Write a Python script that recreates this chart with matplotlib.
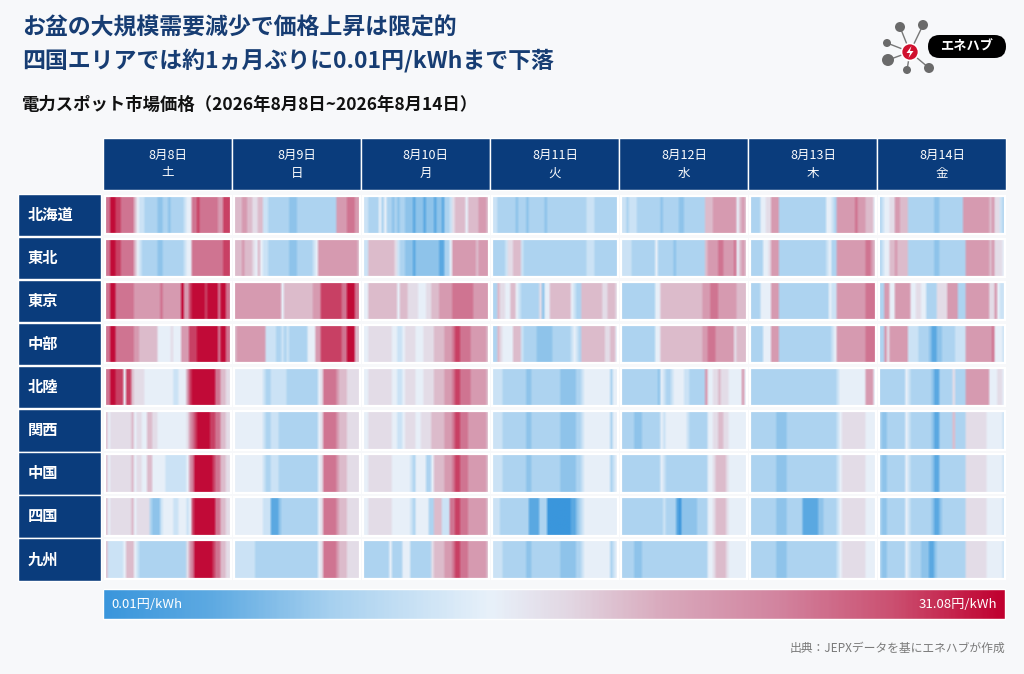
import numpy as np
import matplotlib.pyplot as plt
from matplotlib.colors import LinearSegmentedColormap, Normalize
from matplotlib.patches import Rectangle, Circle, FancyBboxPatch, Polygon

plt.rcParams['font.family'] = ['Noto Sans CJK JP', 'DejaVu Sans']

regions = ['北海道', '東北', '東京', '中部', '北陸', '関西', '中国', '四国', '九州']
dates = ['8月8日', '8月9日', '8月10日', '8月11日', '8月12日', '8月13日', '8月14日']
weekdays = ['土', '日', '月', '火', '水', '木', '金']

# one character per half hour (48 per day)
level_price = dict(zip('0123456789ab',
                       [0.01, 3.5, 6.5, 8.5, 11, 13.5, 15.5, 18, 21, 24.5, 28, 30.5]))
p_min, p_max = 0.01, 31.08

hokkaido = [
    "99bbaa 999997 544333 332233 233333 45599a 999999 988aaa",
    "777887 766774 433333 333222 333333 333333 333888 899988",
    "443333 535332 323322 212221 222122 133467 777577 778887",
    "443333 333233 323333 332333 333333 333333 444333 333333",
    "443444 333333 333233 333322 333333 337778 888888 885787",
    "333355 668883 333333 333333 333335 543888 888898 887775",
    "345566 887773 333333 333223 333333 338888 888888 786643",
]
tohoku = [
    "99bbaa 999997 543333 332233 333333 455999 999999 999aaa",
    "777877 765754 433333 333222 333333 458888 888888 888887",
    "447777 777777 643322 212222 222221 133588 888888 878888",
    "333334 667774 333333 333333 333333 333333 444333 333333",
    "444433 333333 353333 332333 333333 337888 899888 895787",
    "333335 568883 333333 333333 333334 533888 888888 889987",
    "345577 877773 333333 333223 333333 333888 888888 786665",
]
tokyo = [
    "99bb99 999998 888888 888988 88888b 88abbb bbabbb b9bb99",
    "888888 888888 888888 577777 777777 888aaa aaaaa9 9bbb99",
    "557777 777777 757776 666555 667778 888899 999999 888888",
    "337665 577543 333333 625577 777777 543377 777777 667776",
    "333333 333333 355777 777777 777777 788899 988888 887777",
    "333355 558883 333333 333333 333333 544888 888888 889999",
    "338855 888888 556655 333366 668888 333888 888888 668544",
]
chubu = [
    "99bb99 999998 877777 775555 565558 88aaab bbbbbb b9bb99",
    "788888 888888 444433 434333 333355 588aaa aaaaa9 9bbb77",
    "556666 666665 544566 665556 666777 78889a a99998 888887",
    "337655 557774 333332 222223 333333 454377 777777 766775",
    "333333 333333 355777 777777 777777 788999 888888 867777",
    "333335 558883 333333 333333 333333 345888 888888 889999",
    "338688 888884 444333 321122 333334 444888 888888 895554",
]
hokuriku = [
    "99bbaa a5aa76 666555 555555 554455 58abbb bbbbbb 997766",
    "555555 555554 334444 443333 333333 335699 999877 766666",
    "556666 666665 544566 665556 666777 78889a a99998 888887",
    "444433 333333 322333 333333 332222 223345 555555 555355",
    "333333 333333 332543 345555 443333 338556 676665 555585",
    "333333 333333 333333 333333 333333 333455 555555 558885",
    "333333 333354 333333 332113 333363 333888 888888 555665",
]
kansai = [
    "756666 666675 665577 665555 555555 5689ab bbbbaa 997766",
    "555555 555554 334443 333333 333333 335699 999877 766666",
    "556666 666665 544566 665566 667777 78889a a99988 888887",
    "444433 333333 322333 333333 332222 223345 555555 555355",
    "333332 223333 333545 555555 543333 333556 677665 555555",
    "333333 333322 223333 333333 333333 333456 666666 665555",
    "322333 333354 333333 332113 333373 333666 666665 555554",
]
chugoku = [
    "756666 666675 665577 555554 444444 4589bb bbbbba 997766",
    "555555 555554 334443 333333 333333 335699 999877 766666",
    "556666 666665 555555 435555 335777 78889a a99988 888887",
    "444433 333333 322333 333333 332222 223345 555555 555345",
    "333333 333333 333543 333333 333333 333556 777765 555555",
    "333333 333322 223333 333333 333333 333456 666666 665555",
    "322333 333354 333333 332113 333333 333666 666665 555554",
]
shikoku = [
    "756666 666675 666663 222455 554455 545abb bbbbbb 997766",
    "555555 555554 441112 333333 333333 335699 999877 766666",
    "556666 666665 555555 435555 533777 44499a a99988 888887",
    "444333 333333 331111 333000 000000 112345 555555 555555",
    "333333 333333 333343 333102 222223 333556 777765 555555",
    "333333 333322 223333 331111 112233 333456 666666 665555",
    "322333 333354 333333 332112 333333 333666 666665 555554",
]
kyushu = [
    "744444 457775 433333 333333 333333 3689bb bbbbba 997766",
    "444444 443333 333333 333333 333333 335699 999877 766666",
    "333333 333353 333555 333333 336777 78889a a99988 888887",
    "444433 333333 322333 333333 332222 223345 555555 555345",
    "333332 223333 333333 333333 333333 333556 777765 555555",
    "333333 333322 223333 333333 333333 333456 666666 665555",
    "322333 333354 333322 211233 333333 333666 666665 555554",
]
region_data = [hokkaido, tohoku, tokyo, chubu, hokuriku, kansai, chugoku, shikoku, kyushu]


def decode(s):
    return np.array([level_price[c] for c in s.replace(' ', '')])


cmap = LinearSegmentedColormap.from_list('jepx', [
    (0.00, '#3a96dc'), (0.12, '#5eaae2'), (0.25, '#a6d0ef'), (0.43, '#e8f1fa'),
    (0.52, '#e2d6e2'), (0.62, '#d9aabd'), (0.75, '#d2849f'), (0.88, '#cb4f70'),
    (1.00, '#c0002f')])
norm = Normalize(p_min, p_max)

W, H = 1024, 674
navy = '#0a3c7c'
fig = plt.figure(figsize=(W / 100, H / 100), dpi=100, facecolor='#f7f8fa')
ax = fig.add_axes([0, 0, 1, 1])
ax.axis('off')

# titles
ax.text(22, 28, 'お盆の大規模需要減少で価格上昇は限定的', fontsize=16.5, fontweight='bold',
        color='#173d73', va='center')
ax.text(22, 61, '四国エリアでは約1ヵ月ぶりに0.01円/kWhまで下落', fontsize=16.5,
        fontweight='bold', color='#173d73', va='center')
ax.text(22, 105, '電力スポット市場価格（2026年8月8日~2026年8月14日）', fontsize=12.5,
        fontweight='bold', color='#111111', va='center')

# grid geometry
col_x0, col_step, cell_w = 105, 129.05, 125.5
row_y0, row_step, cell_h = 195.5, 43.1, 38.5

for d, (dt, wd) in enumerate(zip(dates, weekdays)):
    x = col_x0 + d * col_step
    ax.add_patch(Rectangle((x - 2, 138), cell_w + 3, 52, fc=navy, ec='white', lw=1))
    ax.text(x + cell_w / 2, 155, dt, color='white', fontsize=9, ha='center', va='center')
    ax.text(x + cell_w / 2, 173, wd, color='white', fontsize=9, ha='center', va='center')

for r, (name, days) in enumerate(zip(regions, region_data)):
    y = row_y0 + r * row_step
    ax.add_patch(Rectangle((18, y - 2), 83, cell_h + 4, fc=navy, ec='white', lw=1))
    ax.text(28, y + cell_h / 2, name, color='white', fontsize=11, fontweight='bold',
            va='center', ha='left')
    for d, s in enumerate(days):
        x = col_x0 + d * col_step
        ax.imshow(decode(s)[None, :], cmap=cmap, norm=norm, aspect='auto',
                  interpolation='bilinear', extent=(x, x + cell_w, y + cell_h, y), zorder=2)
        ax.add_patch(Rectangle((x, y), cell_w, cell_h, fc='none', ec='white', lw=1.6, zorder=3))

# colour bar
grad = np.linspace(p_min, p_max, 400)
ax.imshow(grad[None, :], cmap=cmap, norm=norm, aspect='auto',
          extent=(103, 1005, 619, 589), zorder=2)
ax.add_patch(Rectangle((103, 589), 902, 30, fc='none', ec='white', lw=1, zorder=3))
ax.text(111, 604, '0.01円/kWh', color='white', fontsize=9.5, va='center', ha='left', zorder=4)
ax.text(997, 604, '31.08円/kWh', color='white', fontsize=9.5, va='center', ha='right', zorder=4)

ax.text(1005, 648, '出典：JEPXデータを基にエネハブが作成', color='#7a7a7a', fontsize=8.5,
        ha='right', va='center')

# logo
hub = (910, 52)
nodes = [(900, 27, 5), (923, 25, 5), (887, 43, 4), (888, 60, 6), (907, 70, 4), (929, 68, 5)]
for nx, ny, nr in nodes:
    ax.plot([hub[0], nx], [hub[1], ny], color='#777777', lw=1, zorder=4)
    ax.add_patch(Circle((nx, ny), nr, fc='#6a6a6a', ec='none', zorder=5))
ax.add_patch(FancyBboxPatch((928, 35), 78, 23, boxstyle='round,pad=0,rounding_size=11.5',
                            fc='black', ec='none', zorder=5))
ax.text(967, 46.5, 'エネハブ', color='white', fontsize=9.5, fontweight='bold',
        ha='center', va='center', zorder=6)
ax.add_patch(Circle(hub, 8.5, fc='#d0102e', ec='white', lw=1.2, zorder=6))
bolt = [(hub[0] + 1.5, hub[1] - 6), (hub[0] - 3.5, hub[1] + 1), (hub[0], hub[1] + 1),
        (hub[0] - 1.5, hub[1] + 6), (hub[0] + 3.5, hub[1] - 1), (hub[0], hub[1] - 1)]
ax.add_patch(Polygon(bolt, closed=True, fc='white', ec='none', zorder=7))

ax.set_xlim(0, W)
ax.set_ylim(H, 0)
fig.savefig('out.png', dpi=100, facecolor=fig.get_facecolor())
